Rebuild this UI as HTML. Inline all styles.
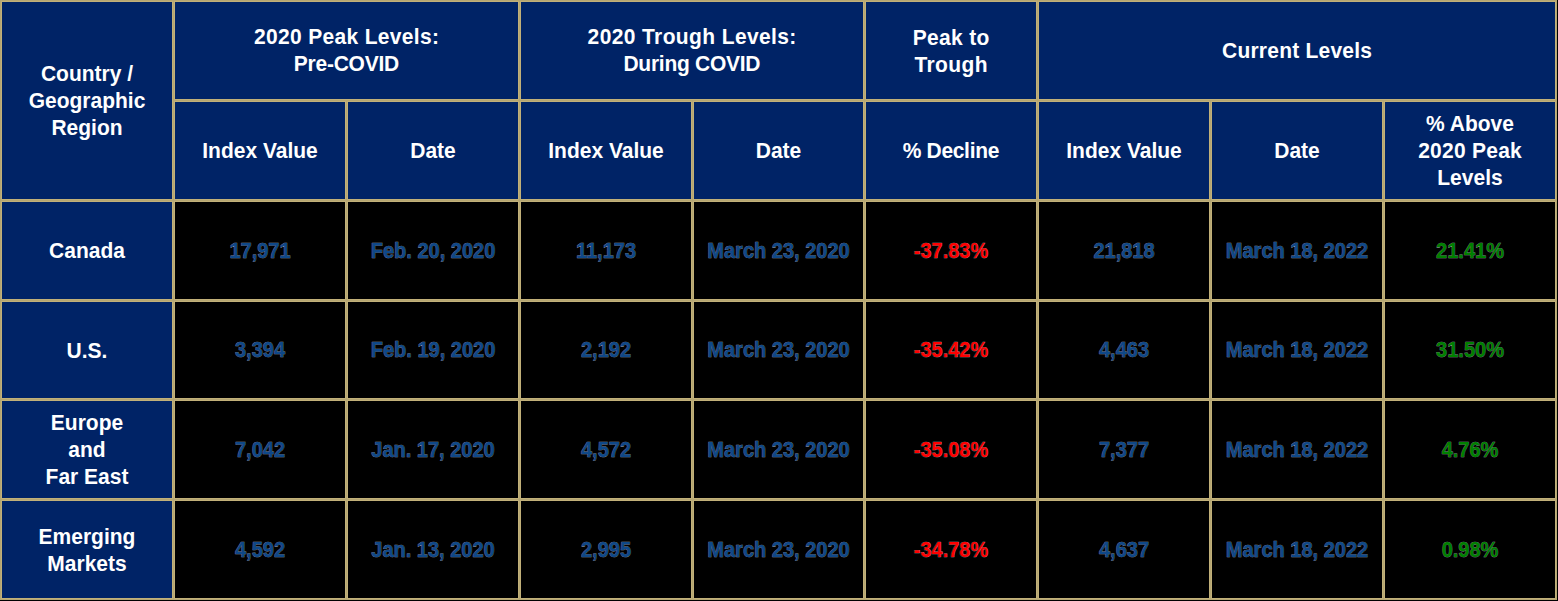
<!DOCTYPE html>
<html><head><meta charset="utf-8"><style>
html,body{margin:0;padding:0;background:#000;width:1558px;height:601px;overflow:hidden}
#t{position:absolute;left:0;top:0;width:1557px;height:600px;background:#B5A672}
.c{position:absolute;outline:1px solid #C1B079;display:flex;align-items:center;justify-content:center;text-align:center;font-family:"Liberation Sans",sans-serif;font-weight:bold;white-space:nowrap}
.h{color:#fff;font-size:21px;line-height:27px}
.d{font-size:20px;line-height:24px}
.d>div{transform:scaleY(1.07);-webkit-text-stroke:0.5px #9A9AA5;paint-order:stroke fill}
.top{padding-bottom:2px;box-sizing:border-box}
.h .ln{display:inline-block;transform-origin:50% 20.8px;transform:scaleY(1.05)}
.b{color:#0F4888}
.r{color:#FF0000}
.g{color:#008000}
</style></head><body>
<div id="t"></div>
<div class="c h" style="left:2px;top:2px;width:170px;height:197px;background:#002366"><div><span class="ln">Country /</span><br><span class="ln">Geographic</span><br><span class="ln">Region</span></div></div>
<div class="c h top" style="left:175px;top:2px;width:343px;height:97px;background:#002366"><div><span class="ln" style="letter-spacing:0.31px;margin-right:-0.31px">2020 Peak Levels:</span><br><span class="ln" style="letter-spacing:-0.25px;margin-right:0.25px">Pre-COVID</span></div></div>
<div class="c h top" style="left:521px;top:2px;width:342px;height:97px;background:#002366"><div><span class="ln" style="letter-spacing:0.38px;margin-right:-0.38px">2020 Trough Levels:</span><br><span class="ln" style="letter-spacing:-0.27px;margin-right:0.27px">During COVID</span></div></div>
<div class="c h" style="left:866px;top:2px;width:170px;height:97px;background:#002366"><div><span class="ln" style="letter-spacing:0.33px;margin-right:-0.33px">Peak to</span><br><span class="ln" style="letter-spacing:0.4px;margin-right:-0.4px">Trough</span></div></div>
<div class="c h" style="left:1039px;top:2px;width:516px;height:97px;background:#002366"><div><span class="ln" style="letter-spacing:0.22px;margin-right:-0.22px">Current Levels</span></div></div>
<div class="c h" style="left:175px;top:102px;width:170px;height:97px;background:#002366"><div><span class="ln">Index Value</span></div></div>
<div class="c h" style="left:348px;top:102px;width:170px;height:97px;background:#002366"><div><span class="ln">Date</span></div></div>
<div class="c h" style="left:521px;top:102px;width:170px;height:97px;background:#002366"><div><span class="ln">Index Value</span></div></div>
<div class="c h" style="left:694px;top:102px;width:169px;height:97px;background:#002366"><div><span class="ln">Date</span></div></div>
<div class="c h" style="left:866px;top:102px;width:170px;height:97px;background:#002366"><div><span class="ln" style="letter-spacing:-0.31px;margin-right:0.31px">% Decline</span></div></div>
<div class="c h" style="left:1039px;top:102px;width:170px;height:97px;background:#002366"><div><span class="ln">Index Value</span></div></div>
<div class="c h" style="left:1212px;top:102px;width:170px;height:97px;background:#002366"><div><span class="ln">Date</span></div></div>
<div class="c h" style="left:1385px;top:102px;width:170px;height:97px;background:#002366"><div><span class="ln">% Above</span><br><span class="ln" style="letter-spacing:0.25px;margin-right:-0.25px">2020 Peak</span><br><span class="ln">Levels</span></div></div>
<div class="c h" style="left:2px;top:202px;width:170px;height:97px;background:#002366"><div><span class="ln">Canada</span></div></div>
<div class="c d b" style="left:175px;top:202px;width:170px;height:97px;background:#000"><div><span class="ln">17,971</span></div></div>
<div class="c d b" style="left:348px;top:202px;width:170px;height:97px;background:#000"><div><span class="ln">Feb. 20, 2020</span></div></div>
<div class="c d b" style="left:521px;top:202px;width:170px;height:97px;background:#000"><div><span class="ln">11,173</span></div></div>
<div class="c d b" style="left:694px;top:202px;width:169px;height:97px;background:#000"><div><span class="ln">March 23, 2020</span></div></div>
<div class="c d r" style="left:866px;top:202px;width:170px;height:97px;background:#000"><div><span class="ln">-37.83%</span></div></div>
<div class="c d b" style="left:1039px;top:202px;width:170px;height:97px;background:#000"><div><span class="ln">21,818</span></div></div>
<div class="c d b" style="left:1212px;top:202px;width:170px;height:97px;background:#000"><div><span class="ln">March 18, 2022</span></div></div>
<div class="c d g" style="left:1385px;top:202px;width:170px;height:97px;background:#000"><div><span class="ln">21.41%</span></div></div>
<div class="c h" style="left:2px;top:302px;width:170px;height:96px;background:#002366"><div><span class="ln">U.S.</span></div></div>
<div class="c d b" style="left:175px;top:302px;width:170px;height:96px;background:#000"><div><span class="ln">3,394</span></div></div>
<div class="c d b" style="left:348px;top:302px;width:170px;height:96px;background:#000"><div><span class="ln">Feb. 19, 2020</span></div></div>
<div class="c d b" style="left:521px;top:302px;width:170px;height:96px;background:#000"><div><span class="ln">2,192</span></div></div>
<div class="c d b" style="left:694px;top:302px;width:169px;height:96px;background:#000"><div><span class="ln">March 23, 2020</span></div></div>
<div class="c d r" style="left:866px;top:302px;width:170px;height:96px;background:#000"><div><span class="ln">-35.42%</span></div></div>
<div class="c d b" style="left:1039px;top:302px;width:170px;height:96px;background:#000"><div><span class="ln">4,463</span></div></div>
<div class="c d b" style="left:1212px;top:302px;width:170px;height:96px;background:#000"><div><span class="ln">March 18, 2022</span></div></div>
<div class="c d g" style="left:1385px;top:302px;width:170px;height:96px;background:#000"><div><span class="ln">31.50%</span></div></div>
<div class="c h" style="left:2px;top:401px;width:170px;height:97px;background:#002366"><div><span class="ln">Europe</span><br><span class="ln">and</span><br><span class="ln">Far East</span></div></div>
<div class="c d b" style="left:175px;top:401px;width:170px;height:97px;background:#000"><div><span class="ln">7,042</span></div></div>
<div class="c d b" style="left:348px;top:401px;width:170px;height:97px;background:#000"><div><span class="ln">Jan. 17, 2020</span></div></div>
<div class="c d b" style="left:521px;top:401px;width:170px;height:97px;background:#000"><div><span class="ln">4,572</span></div></div>
<div class="c d b" style="left:694px;top:401px;width:169px;height:97px;background:#000"><div><span class="ln">March 23, 2020</span></div></div>
<div class="c d r" style="left:866px;top:401px;width:170px;height:97px;background:#000"><div><span class="ln">-35.08%</span></div></div>
<div class="c d b" style="left:1039px;top:401px;width:170px;height:97px;background:#000"><div><span class="ln">7,377</span></div></div>
<div class="c d b" style="left:1212px;top:401px;width:170px;height:97px;background:#000"><div><span class="ln">March 18, 2022</span></div></div>
<div class="c d g" style="left:1385px;top:401px;width:170px;height:97px;background:#000"><div><span class="ln">4.76%</span></div></div>
<div class="c h" style="left:2px;top:501px;width:170px;height:97px;background:#002366"><div><span class="ln">Emerging</span><br><span class="ln">Markets</span></div></div>
<div class="c d b" style="left:175px;top:501px;width:170px;height:97px;background:#000"><div><span class="ln">4,592</span></div></div>
<div class="c d b" style="left:348px;top:501px;width:170px;height:97px;background:#000"><div><span class="ln">Jan. 13, 2020</span></div></div>
<div class="c d b" style="left:521px;top:501px;width:170px;height:97px;background:#000"><div><span class="ln">2,995</span></div></div>
<div class="c d b" style="left:694px;top:501px;width:169px;height:97px;background:#000"><div><span class="ln">March 23, 2020</span></div></div>
<div class="c d r" style="left:866px;top:501px;width:170px;height:97px;background:#000"><div><span class="ln">-34.78%</span></div></div>
<div class="c d b" style="left:1039px;top:501px;width:170px;height:97px;background:#000"><div><span class="ln">4,637</span></div></div>
<div class="c d b" style="left:1212px;top:501px;width:170px;height:97px;background:#000"><div><span class="ln">March 18, 2022</span></div></div>
<div class="c d g" style="left:1385px;top:501px;width:170px;height:97px;background:#000"><div><span class="ln">0.98%</span></div></div>
</body></html>
